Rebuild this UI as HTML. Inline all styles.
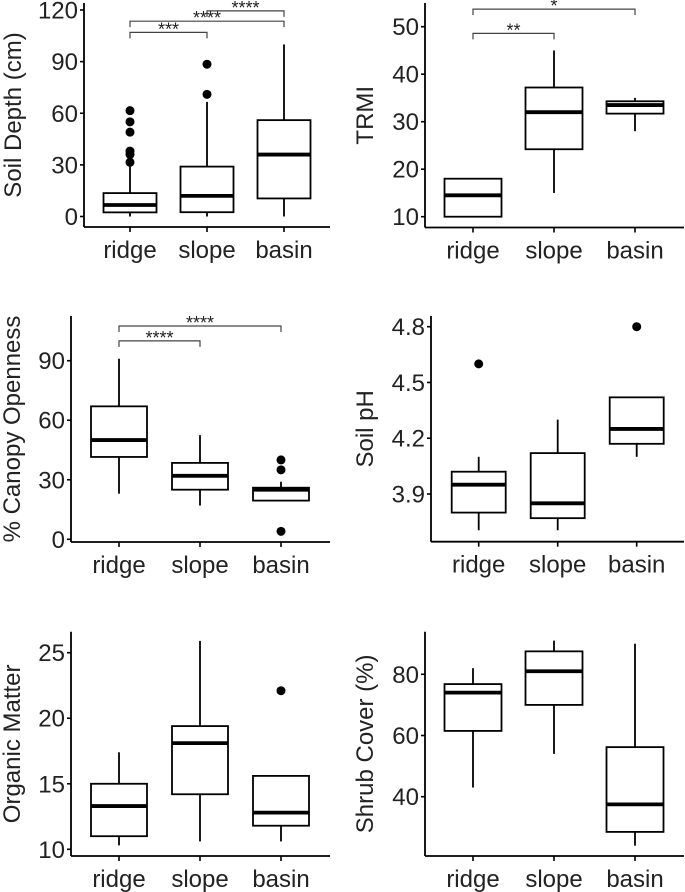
<!DOCTYPE html>
<html><head><meta charset="utf-8">
<style>
html,body{margin:0;padding:0;background:#fff;}
svg{display:block;font-family:"Liberation Sans",Arial,sans-serif;}
</style></head>
<body>
<svg id="fig" width="685" height="892" viewBox="0 0 685 892" xmlns="http://www.w3.org/2000/svg"></svg>
<script>
const categories = ["ridge","slope","basin"];
// each box: [lowerWhisker, q1, median, q3, upperWhisker]
const soilDepthBoxes = [[0,2.4,6.7,13.6,29],[0,2.5,12,29,66.6],[0,10.5,36,56,100]];
const soilDepthOutliers = [[31.5,36,38,49,55,61.5],[71,88.5],[]];
const soilDepthTicks = [0,30,60,90,120];
const soilDepthSig = [["ridge","slope",107,"***"],["ridge","basin",113.5,"****"],["slope","basin",119.5,"****"]];

const trmiBoxes = [[10,10,14.5,18,18],[15,24.2,32,37.2,45],[28,31.7,33.5,34.3,35]];
const trmiOutliers = [[],[],[]];
const trmiTicks = [10,20,30,40,50];
const trmiSig = [["ridge","slope",48.6,"**"],["ridge","basin",53.7,"*"]];

const canopyBoxes = [[23,41.5,50,67,91],[17,25,32,38.5,52.5],[20,19.5,25,26,29]];
const canopyOutliers = [[],[],[4,35,40]];
const canopyTicks = [0,30,60,90];
const canopySig = [["ridge","slope",100,"****"],["ridge","basin",107.5,"****"]];

const phBoxes = [[3.705,3.80,3.95,4.02,4.10],[3.705,3.77,3.85,4.12,4.30],[4.10,4.17,4.25,4.42,4.42]];
const phOutliers = [[4.60],[],[4.80]];
const phTicks = [3.9,4.2,4.5,4.8];

const omBoxes = [[10.3,11,13.3,15,17.4],[10.6,14.2,18.1,19.4,25.9],[10.6,11.8,12.8,15.6,15.6]];
const omOutliers = [[],[],[22.1]];
const omTicks = [10,15,20,25];

const shrubBoxes = [[43,61.5,74,76.8,82],[54,70,81,87.5,91],[24,28.5,37.5,56.2,90]];
const shrubOutliers = [[],[],[]];
const shrubTicks = [40,60,80];

const NS="http://www.w3.org/2000/svg";
const svg=document.getElementById('fig');
function mk(tag,attrs,parent){const e=document.createElementNS(NS,tag);for(const k in attrs)e.setAttribute(k,attrs[k]);(parent||svg).appendChild(e);return e;}

function panel(cfg,boxes,outliers,ticks,sig){
  const g=mk('g',{});
  
  
  const y=v=>cfg.y1+(v-cfg.v1)*(cfg.y2-cfg.y1)/(cfg.v2-cfg.v1);
  const x=c=>cfg.cx[categories.indexOf(c)];
  const ya=mk('line',{x1:cfg.ax,y1:cfg.top,x2:cfg.ax,y2:cfg.bottom,stroke:'#000','stroke-width':1.8},g);
  
  
  const xa=mk('line',{x1:cfg.ax,y1:cfg.bottom,x2:cfg.right,y2:cfg.bottom,stroke:'#000','stroke-width':1.8},g);
  
  
  ticks.forEach(t=>{
    const yy=y(t);
    mk('line',{x1:cfg.ax-4,y1:yy,x2:cfg.ax,y2:yy,stroke:'#000','stroke-width':1.6},g);
    const tl=mk('text',{x:cfg.ax-6,y:yy+8.5,'text-anchor':'end','font-size':24,fill:'#222'},g);
    tl.textContent=String(t%1===0?t:t.toFixed(1));
    
    
  });
  categories.forEach((c,i)=>{
    const cx=cfg.cx[i];
    mk('line',{x1:cx,y1:cfg.bottom,x2:cx,y2:cfg.bottom+5,stroke:'#000','stroke-width':1.6},g);
    const cl=mk('text',{x:cx,y:cfg.bottom+31,'text-anchor':'middle','font-size':24,fill:'#222'},g);
    cl.textContent=c;
    
    
    const b=boxes[i],hw=cfg.hw;
    const bg=mk('g',{},g);
    
    
    mk('line',{x1:cx,y1:y(b[0]),x2:cx,y2:y(b[1]),stroke:'#000','stroke-width':1.8},bg);
    mk('line',{x1:cx,y1:y(b[3]),x2:cx,y2:y(b[4]),stroke:'#000','stroke-width':1.8},bg);
    mk('rect',{x:cx-hw,y:y(b[3]),width:2*hw,height:y(b[1])-y(b[3]),fill:'#fff',stroke:'#000','stroke-width':1.8},bg);
    mk('line',{x1:cx-hw,y1:y(b[2]),x2:cx+hw,y2:y(b[2]),stroke:'#000','stroke-width':3.8},bg);
    outliers[i].forEach(o=>{
      const p=mk('circle',{cx:cx,cy:y(o),r:4.5,fill:'#000'},bg);
      
      
    });
  });
  (sig||[]).forEach(s=>{
    const x1=x(s[0]),x2=x(s[1]),yy=y(s[2]);
    const sg=mk('g',{},g);
    
    
    mk('path',{d:`M${x1},${yy+6}V${yy}H${x2}V${yy+6}`,fill:'none',stroke:'#444','stroke-width':1.2},sg);
    const st=mk('text',{x:(x1+x2)/2,y:yy+3,'text-anchor':'middle','font-size':18,fill:'#222'},sg);
    st.textContent=s[3];
  });
  const tx=cfg.labelX, ty=(cfg.top+cfg.bottom)/2;
  const al=mk('text',{x:tx,y:ty,'text-anchor':'middle','font-size':24,fill:'#222',transform:`rotate(-90 ${tx} ${ty})`},g);
  al.textContent=cfg.label;
  
  
}

panel({name:'soil-depth-panel',ax:84,top:3,bottom:227,right:330,cx:[130,207,284],hw:26.5,v1:0,y1:216.5,v2:120,y2:10,labelX:21,label:'Soil Depth (cm)'},soilDepthBoxes,soilDepthOutliers,soilDepthTicks,soilDepthSig);
panel({name:'trmi-panel',ax:425,top:3,bottom:227.5,right:684,cx:[473,554,635],hw:28.5,v1:10,y1:216.7,v2:50,y2:26.7,labelX:373,label:'TRMI'},trmiBoxes,trmiOutliers,trmiTicks,trmiSig);
panel({name:'canopy-openness-panel',ax:71,top:316,bottom:542,right:330,cx:[119,200,281],hw:28,v1:0,y1:539.3,v2:90,y2:360.7,labelX:20,label:'% Canopy Openness'},canopyBoxes,canopyOutliers,canopyTicks,canopySig);
panel({name:'soil-ph-panel',ax:431,top:316,bottom:541.7,right:684,cx:[478.7,557.7,636.7],hw:27,v1:3.9,y1:494,v2:4.8,y2:326.7,labelX:373,label:'Soil pH'},phBoxes,phOutliers,phTicks,null);
panel({name:'organic-matter-panel',ax:71,top:631.7,bottom:856,right:330,cx:[119,200,281],hw:28,v1:10,y1:849.3,v2:25,y2:652.7,labelX:20,label:'Organic Matter'},omBoxes,omOutliers,omTicks,null);
panel({name:'shrub-cover-panel',ax:425,top:631.7,bottom:856,right:684,cx:[473,554,635],hw:28.5,v1:40,y1:796.7,v2:80,y2:674.3,labelX:373,label:'Shrub Cover (%)'},shrubBoxes,shrubOutliers,shrubTicks,null);
</script>
</body></html>
